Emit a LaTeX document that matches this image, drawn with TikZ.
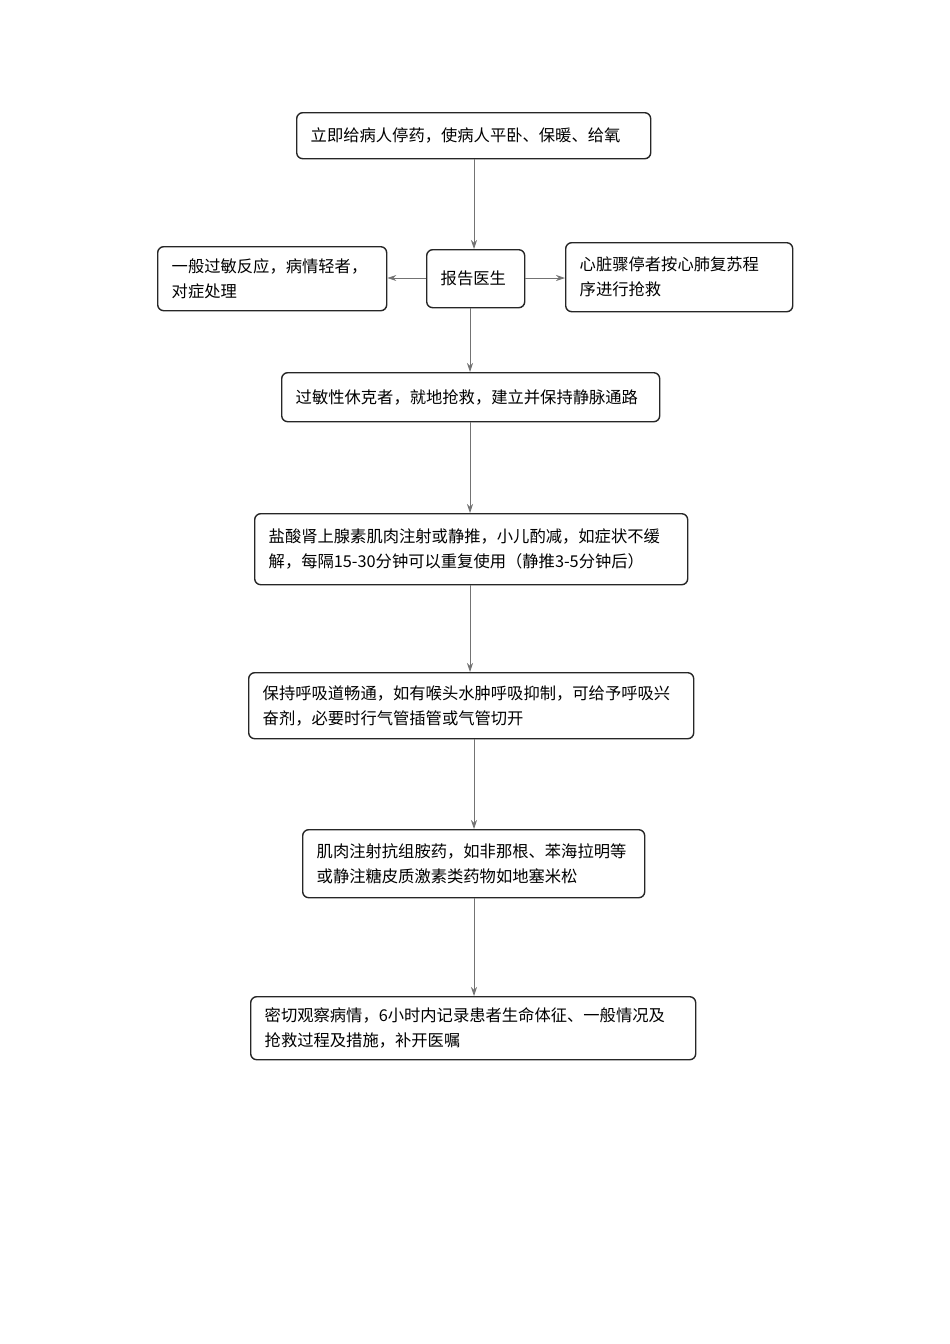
\documentclass[tikz,border=0pt]{standalone}
\usepackage{fontspec}
\newfontfamily\cjk{Noto Sans CJK SC}
\usetikzlibrary{arrows.meta}
\begin{document}
\begin{tikzpicture}[x=1pt,y=-1pt,
  box/.style={draw=black!85,line width=1.4pt,rounded corners=6pt,font=\cjk\fontsize{16.3}{25}\selectfont,align=left,inner xsep=14pt,inner ysep=0pt,anchor=north west},
  arr/.style={draw=black!55,line width=0.8pt,-{Stealth[length=9pt,width=6pt]}}]
\useasboundingbox (0,0) rectangle (950,1344);
\newcommand\bx[6]{\node[box,text width=#4-#2-28,minimum height=#5-#3] (#1) at (#2,#3) {#6};}
\bx{a}{296}{112}{650}{158}{立即给病人停药，使病人平卧、保暖、给氧}
\bx{b}{426}{249}{524}{307}{报告医生}
\bx{l}{157}{246}{386}{310}{一般过敏反应，病情轻者，\\对症处理}
\bx{r}{565}{242}{792}{311}{心脏骤停者按心肺复苏程\\序进行抢救}
\bx{c}{281}{372}{659}{421}{过敏性休克者，就地抢救，建立并保持静脉通路}
\bx{d}{254}{513}{687}{584}{盐酸肾上腺素肌肉注射或静推，小儿酌减，如症状不缓\\解，每隔15-30分钟可以重复使用（静推3-5分钟后）}
\bx{e}{248}{672}{693}{738}{保持呼吸道畅通，如有喉头水肿呼吸抑制，可给予呼吸兴\\奋剂，必要时行气管插管或气管切开}
\bx{f}{302}{829}{644}{897}{肌肉注射抗组胺药，如非那根、苯海拉明等\\或静注糖皮质激素类药物如地塞米松}
\bx{g}{250}{996}{695}{1059}{密切观察病情，6小时内记录患者生命体征、一般情况及\\抢救过程及措施，补开医嘱}
\draw[arr] (a.south-|474,0) -- (b.north-|474,0);
\draw[arr] (b.south-|470,0) -- (c.north-|470,0);
\draw[arr] (c.south-|470,0) -- (d.north-|470,0);
\draw[arr] (d.south-|470,0) -- (e.north-|470,0);
\draw[arr] (e.south-|474,0) -- (f.north-|474,0);
\draw[arr] (f.south-|474,0) -- (g.north-|474,0);
\draw[arr] (b.west|-0,278) -- (l.east|-0,278);
\draw[arr] (b.east|-0,278) -- (r.west|-0,278);
\end{tikzpicture}
\end{document}
